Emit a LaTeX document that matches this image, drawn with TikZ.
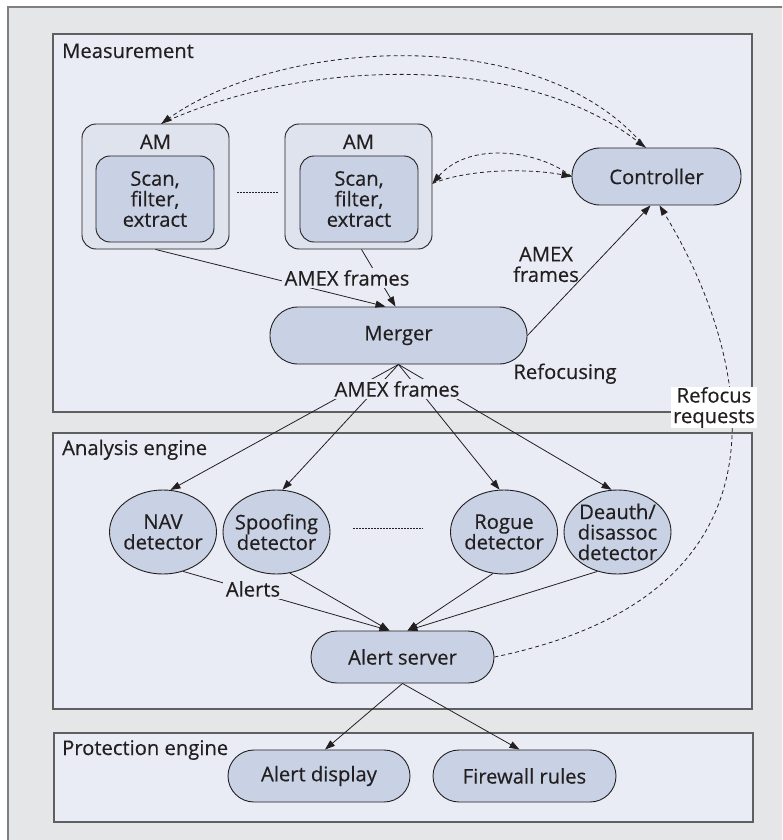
\documentclass[tikz,border=0pt]{standalone}
\usepackage{fontspec}
\setmainfont{Open Sans}[FakeBold=0.4]
\usetikzlibrary{arrows.meta,calc,shapes.geometric}

\definecolor{ink}{HTML}{231F20}
\definecolor{pagegray}{HTML}{E5E6E8}
\definecolor{panel}{HTML}{E9ECF4}
\definecolor{amfill}{HTML}{DEE3EE}
\definecolor{nodefill}{HTML}{C9D2E4}
\definecolor{framegray}{HTML}{5E5F61}

\begin{document}
\begin{tikzpicture}[x=1pt,y=-1pt,
  every node/.style={font=\fontsize{20.2}{20.5}\selectfont, text=ink},
  panelbox/.style={draw=framegray, line width=1.4pt, fill=panel},
  amouter/.style={draw=ink, line width=0.9pt, fill=amfill, rounded corners=14pt,
    minimum width=147pt, minimum height=125pt, inner sep=0pt},
  aminner/.style={draw=ink, line width=0.9pt, fill=nodefill, rounded corners=14pt,
    minimum width=118pt, minimum height=86pt, inner sep=0pt, align=center},
  pill/.style={draw=ink, line width=0.9pt, fill=nodefill, rounded corners=26pt,
    minimum height=52pt, inner sep=0pt},
  detector/.style={draw=ink, line width=0.9pt, fill=nodefill, ellipse,
    minimum width=107pt, minimum height=84pt, inner sep=-15pt, align=center},
  flow/.style={draw=ink, line width=0.8pt, -{Triangle[length=10pt,width=7pt]}},
  ctl/.style={flow, dash pattern=on 4pt off 3pt},
  ellipsis/.style={draw=ink, line width=0.8pt, dash pattern=on 1.2pt off 1.8pt},
  tag/.style={fill=panel, inner sep=2.5pt, align=center},
]
\useasboundingbox (0,0) rectangle (782,840);
\fill[white] (0,0) rectangle (782,840);

% page background
\begin{scope}
  \clip (0,0) rectangle (782,840);
  \filldraw[fill=pagegray, draw=framegray!80, line width=1.5pt] (8,7) rectangle (800,860);
\end{scope}

% the three engine panels
\draw[panelbox] (53,34) rectangle (752,412);
\draw[panelbox] (53,433) rectangle (752,709);
\draw[panelbox] (54,733) rectangle (753,822);

\node[anchor=base west, inner sep=0pt] (measlab) at (62,58) {Measurement};
\node[anchor=base west, inner sep=0pt] (analab) at (62,455) {Analysis engine};
\node[anchor=base west, inner sep=0pt] (protlab) at (62,755) {Protection engine};

% measurement
\node[amouter] (am1) at (155.5,186.5) {};
\node[anchor=base] (amlab1) at (155.5,149) {AM};
\node[aminner] (sfe1) at (155,199) {Scan,\\filter,\\extract};

\node[amouter] (am2) at (358.5,186.5) {};
\node[anchor=base] (amlab2) at (358.5,149) {AM};
\node[aminner] (sfe2) at (359,199) {Scan,\\filter,\\extract};

\node[pill, minimum width=169pt, minimum height=57pt, rounded corners=28pt] (ctrl) at (656.5,176.5) {Controller};
\node[pill, minimum width=257pt, minimum height=57pt, rounded corners=28pt] (merger) at (398.5,335.5) {Merger};

% analysis
\node[detector] (nav) at (163,532) {NAV\\detector};
\node[detector] (spoof) at (276.5,532) {Spoofing\\detector};
\node[detector] (rogue) at (504,532) {Rogue\\detector};
\node[detector] (deauth) at (617.5,532) {Deauth/\\disassoc\\detector};
\node[pill, minimum width=183pt] (alert) at (402.5,657) {Alert server};

% protection
\node[pill, minimum width=182pt] (display) at (319,776) {Alert display};
\node[pill, minimum width=183pt] (firewall) at (524.5,776) {Firewall rules};

% ellipses between repeated elements
\draw[ellipsis] ($(am1.east)+(8,5.5)$) -- ($(am2.west)+(-6,5.5)$);
\draw[ellipsis] ($(spoof.east)+(23,-4)$) -- ($(rogue.west)+(-27,-4)$);

% data flow
\draw[flow] (am1.south) -- ($(merger.north)+(-13,0)$);
\draw[flow] ($(am2.south)+(3,0)$) -- ($(merger.north)+(-3,0)$);
\draw[flow] (merger.east) -- ($(ctrl.south)+(-6,0)$);
\draw[flow] (merger.south) -- (nav.80);
\draw[flow] (merger.south) -- (spoof.82);
\draw[flow] (merger.south) -- (rogue.96);
\draw[flow] (merger.south) -- (deauth.98);
\draw[flow] (nav.-63) -- ($(alert.north)+(-13,0)$);
\draw[flow] (spoof.-72) -- ($(alert.north)+(-13,0)$);
\draw[flow] (rogue.-105) -- ($(alert.north)+(5,0)$);
\draw[flow] (deauth.-117) -- ($(alert.north)+(5,0)$);
\draw[flow] (alert.south) -- ($(display.north)+(6,0)$);
\draw[flow] (alert.south) -- ($(firewall.north)+(-5,0)$);

% control traffic
\draw[ctl] ($(ctrl.north)+(-11,0)$) .. controls +(-105,-127) and +(118,-84) .. ($(am1.north)+(6,0)$);
\draw[ctl] ($(am1.north)+(6,0)$) .. controls +(138,-64) and +(-125,-97) .. ($(ctrl.north)+(-11,0)$);
\draw[ctl] (ctrl.west) .. controls +(-32,-26) and +(37,-43) .. ($(am2.east)+(0,-3)$);
\draw[ctl] ($(am2.east)+(0,-3)$) .. controls +(37,-15) and +(-42,-8) .. (ctrl.west);
\draw[ctl] (alert.east) .. controls +(326,-67) and +(81,133) .. ($(ctrl.south)+(3,0)$);

% labels on the connectors
\node[tag] (amexA) at (347,278) {AMEX frames};
\node[tag] (amexB) at (397,389) {AMEX frames};
\node[align=center, inner sep=0.5pt] (amexC) at (546,264.5) {AMEX\\frames};
\node[anchor=base] (refocusing) at (565,379) {Refocusing};
\node[tag] (alerts) at (253,589) {Alerts};
\node[fill=white, inner sep=0pt, minimum width=86pt, minimum height=41pt, align=center] (refreq) at (714,407.5) {Refocus\\requests};
\end{tikzpicture}
\end{document}
